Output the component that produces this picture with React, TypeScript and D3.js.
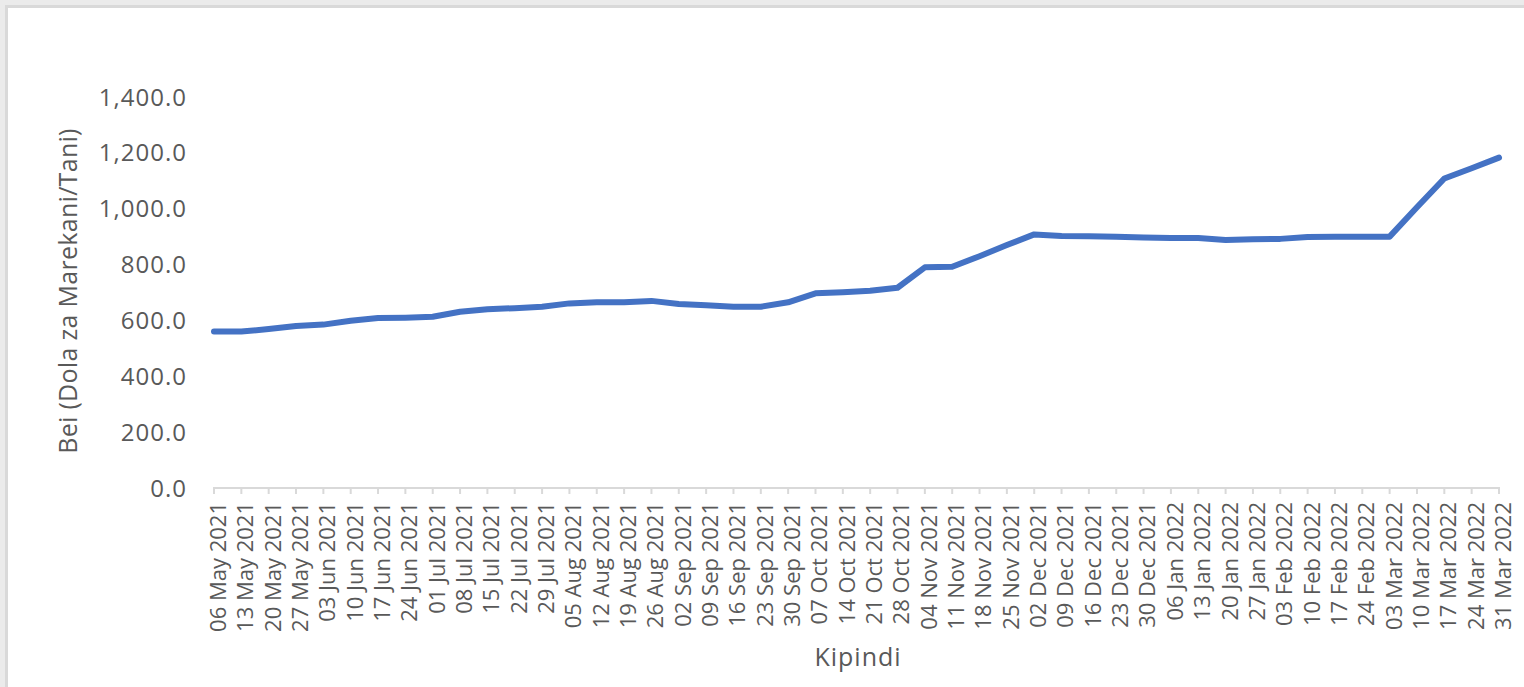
import React from "react";
import * as d3 from "d3";

const dates: string[] = [
  "06 May 2021", "13 May 2021", "20 May 2021", "27 May 2021",
  "03 Jun 2021", "10 Jun 2021", "17 Jun 2021", "24 Jun 2021",
  "01 Jul 2021", "08 Jul 2021", "15 Jul 2021", "22 Jul 2021", "29 Jul 2021",
  "05 Aug 2021", "12 Aug 2021", "19 Aug 2021", "26 Aug 2021",
  "02 Sep 2021", "09 Sep 2021", "16 Sep 2021", "23 Sep 2021", "30 Sep 2021",
  "07 Oct 2021", "14 Oct 2021", "21 Oct 2021", "28 Oct 2021",
  "04 Nov 2021", "11 Nov 2021", "18 Nov 2021", "25 Nov 2021",
  "02 Dec 2021", "09 Dec 2021", "16 Dec 2021", "23 Dec 2021", "30 Dec 2021",
  "06 Jan 2022", "13 Jan 2022", "20 Jan 2022", "27 Jan 2022",
  "03 Feb 2022", "10 Feb 2022", "17 Feb 2022", "24 Feb 2022",
  "03 Mar 2022", "10 Mar 2022", "17 Mar 2022", "24 Mar 2022", "31 Mar 2022",
];

const prices: number[] = [
  560, 560, 569, 580,
  585, 599, 609, 610,
  613, 631, 640, 644, 649,
  661, 665, 665, 670,
  659, 654, 649, 649, 665,
  697, 701, 706, 717,
  790, 792, 830, 870,
  908, 902, 901, 900, 897,
  895, 895, 888, 891,
  892, 899, 900, 900,
  900, 1005, 1108, 1145, 1183,
];

const yTicks: number[] = [0, 200, 400, 600, 800, 1000, 1200, 1400];

const yTitle = "Bei (Dola za Marekani/Tani)";
const xTitle = "Kipindi";

export default function App() {
  const W = 1524;
  const H = 687;
  const x = d3.scalePoint<string>().domain(dates).range([214, 1499]);
  const y = d3.scaleLinear().domain([0, 1400]).range([488, 97]);
  const fmt = d3.format(",.1f");
  const line = d3
    .line<number>()
    .x((_, i) => x(dates[i]) as number)
    .y((d) => y(d));
  const font = "'Open Sans', 'Noto Sans', sans-serif";
  const textColor = "#595959";

  return (
    <svg
      width={W}
      height={H}
      style={{ position: "absolute", left: 0, top: 0, display: "block" }}
      fontFamily={font}
    >
      <rect x={0} y={0} width={W} height={H} fill="#ebebeb" />
      <rect x={6.5} y={6.5} width={W + 20} height={H + 20} fill="#ffffff" stroke="#d9d9d9" strokeWidth={3} />

      {/* Y tick labels */}
      {yTicks.map((t) => (
        <text
          key={t}
          x={187}
          y={y(t)}
          dy="0.36em"
          textAnchor="end"
          fontSize={24}
          letterSpacing={1}
          fill={textColor}
        >
          {fmt(t)}
        </text>
      ))}

      {/* X axis */}
      <line x1={213} x2={1500} y1={488} y2={488} stroke="#d9d9d9" strokeWidth={2} />
      {dates.map((d) => (
        <line key={"t" + d} x1={x(d)} x2={x(d)} y1={488} y2={494} stroke="#d9d9d9" strokeWidth={2} />
      ))}
      {dates.map((d) => (
        <text
          key={"l" + d}
          transform={`translate(${(x(d) as number) + 4},502) rotate(-90)`}
          dy="0.36em"
          textAnchor="end"
          fontSize={22}
          fill={textColor}
        >
          {d}
        </text>
      ))}

      {/* Line */}
      <path
        d={line(prices) ?? ""}
        fill="none"
        stroke="#4472C4"
        strokeWidth={6}
        strokeLinejoin="round"
        strokeLinecap="round"
      />

      {/* Axis titles */}
      <text
        transform={`translate(77,291) rotate(-90)`}
        textAnchor="middle"
        fontSize={25}
        letterSpacing={0.3}
        fill={textColor}
      >
        {yTitle}
      </text>
      <text x={858} y={666} textAnchor="middle" fontSize={25} letterSpacing={1} fill={textColor}>
        {xTitle}
      </text>
    </svg>
  );
}
